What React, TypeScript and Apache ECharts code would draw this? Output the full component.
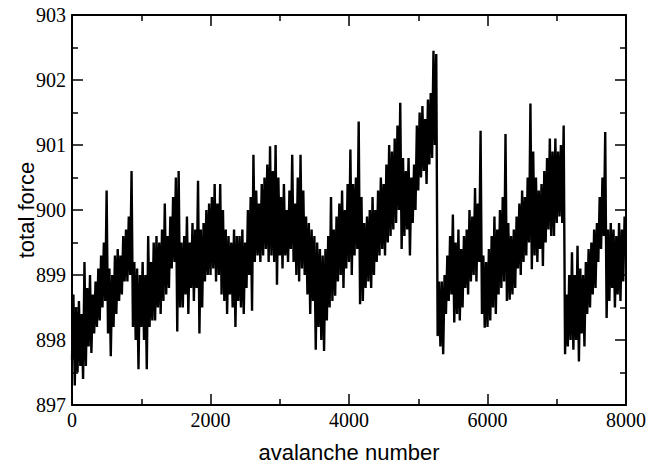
import React, { useEffect, useRef } from "react";
import * as echarts from "echarts";

// sample spacing along the x axis (avalanche number) for each bin
const binWidth = 40;
// x axis ticks
const xTicks = [0, 2000, 4000, 6000, 8000];
// y axis ticks
const yTicks = [897, 898, 899, 900, 901, 902, 903];

// upper excursion of total force in each bin of 40 avalanches
const highs = [
  898.7, 898.5, 898.6, 898.4, 899.2,
  898.8, 899.0, 898.7, 898.9, 899.1,
  899.3, 899.5, 900.3, 899.1, 899.0,
  899.3, 899.4, 899.3, 899.6, 899.7,
  899.9, 900.6, 899.2, 899.1, 899.0,
  899.2, 899.0, 899.6, 899.2, 899.5,
  899.6, 899.5, 899.7, 900.1, 899.6,
  899.9, 900.2, 900.5, 900.6, 899.5,
  899.6, 899.9, 899.5, 899.8, 899.7,
  900.45, 899.7, 899.8, 900.0, 900.1,
  900.2, 900.4, 900.1, 900.4, 900.0,
  899.7, 899.6, 899.5, 899.7, 899.6,
  899.6, 899.7, 899.5, 900.0, 900.2,
  900.85, 900.3, 900.1, 900.4, 900.5,
  900.7, 900.98, 900.6, 901.0, 900.5,
  900.2, 900.4, 900.0, 900.3, 900.85,
  900.1, 900.5, 900.85, 900.3, 899.9,
  899.8, 899.7, 899.6, 899.5, 899.4,
  899.3, 899.4, 899.6, 900.2, 899.7,
  899.9, 900.1, 900.3, 900.0, 900.4,
  900.93, 900.4, 900.5, 901.36, 900.2,
  899.8, 899.9, 900.0, 900.2, 900.0,
  900.3, 900.5, 900.4, 900.7, 901.0,
  900.9, 901.1, 901.3, 901.65, 900.8,
  900.6, 900.8, 900.5, 900.7, 901.3,
  901.5, 901.6, 901.4, 901.7, 901.8,
  902.45, 902.4, 898.9,
  898.9, 899.0,
  899.3, 899.6, 899.93, 899.5, 899.7,
  899.4, 899.6, 899.7, 900.0, 899.9,
  900.34, 900.1, 901.22, 899.3, 899.2,
  899.4, 899.6, 899.9, 899.7, 900.0,
  900.2, 901.17, 899.8, 899.6, 899.7,
  899.9, 900.1, 900.3, 900.2, 900.5,
  901.64, 900.9, 900.5, 900.3, 900.4,
  900.6, 900.8, 901.1, 900.9, 901.1,
  900.9, 901.0, 901.3,
  898.7, 899.0, 899.35, 899.0,
  899.45, 899.1, 899.0, 899.2,
  899.4, 899.5, 899.7, 899.8,
  900.2, 900.5, 901.2, 899.7,
  899.8, 899.7, 899.6, 899.8, 899.7, 899.9,
];

// lower excursion of total force in each bin of 40 avalanches
const lows = [
  897.7, 897.3, 897.5, 897.6, 897.4,
  897.6, 897.9, 897.8, 898.1, 898.2,
  898.3, 898.5, 898.6, 898.1, 897.75,
  898.2, 898.4, 898.6, 898.7, 898.9,
  898.9, 899.0, 898.2, 898.0, 897.55,
  898.2, 898.0, 897.55, 898.2, 898.3,
  898.3, 898.5, 898.4, 898.6, 898.7,
  898.8, 899.1, 899.2, 898.13, 898.5,
  898.5, 898.7, 898.4, 898.8, 898.6,
  898.8, 898.1, 898.5, 898.9, 899.0,
  899.0, 899.1, 898.9, 899.0, 898.7,
  898.6, 898.4, 898.7, 898.5, 898.2,
  898.6, 898.5, 898.4, 898.8, 899.0,
  898.45, 899.2, 899.3, 899.2, 899.3,
  899.4, 899.2, 899.3, 899.2, 898.85,
  899.3, 899.1, 899.3, 899.2, 899.4,
  899.2, 899.0, 898.9, 899.1, 899.0,
  898.7, 898.4, 898.6, 897.85, 898.2,
  898.0, 897.83, 898.3, 898.5, 898.6,
  898.68, 898.9, 899.0, 898.8, 899.1,
  899.2, 899.0, 899.3, 899.4, 898.55,
  898.6, 898.8, 898.9, 898.8, 899.0,
  899.2, 899.3, 899.4, 899.3, 899.5,
  899.6, 899.7, 899.8, 900.0, 899.4,
  899.6, 899.7, 899.3, 899.8, 900.0,
  900.3, 900.5, 900.6, 900.4, 900.7,
  900.8, 901.0, 898.06,
  897.9, 897.78,
  898.4, 898.6, 898.7, 898.27, 898.4,
  898.3, 898.5, 898.8, 898.7, 898.9,
  899.0, 898.9, 899.2, 898.4, 898.19,
  898.2, 898.3, 898.5, 898.4, 898.7,
  898.8, 898.9, 898.6, 898.62, 898.7,
  898.8, 899.1, 899.0, 899.2, 899.3,
  899.5, 899.09, 899.3, 899.2, 899.4,
  899.14, 899.5, 899.7, 899.6, 899.6,
  899.8, 899.9, 899.8,
  897.78, 897.9, 898.0, 897.85,
  898.0, 897.67, 898.1, 897.9,
  898.4, 898.5, 898.7, 898.8,
  899.2, 899.4, 899.6, 898.34,
  898.6, 898.8, 898.5, 898.7, 898.6, 898.9,
];

const xTitle = "avalanche number";
const yTitle = "total force";

export default function App() {
  const ref = useRef<HTMLDivElement>(null);

  useEffect(() => {
    if (!ref.current) return;
    const chart = echarts.init(ref.current, null, { renderer: "svg" });

    const data: [number, number][] = [];
    for (let i = 0; i < highs.length; i++) {
      data.push([i * binWidth, lows[i]]);
      data.push([i * binWidth + binWidth / 2, highs[i]]);
    }

    const serif = "Liberation Serif";
    const labelStyle = {
      fontFamily: serif,
      fontSize: 20,
      color: "#000",
      formatter: (v: number) => String(v),
    };
    const lineStyle = { color: "#000", width: 2 };
    const tick = { show: true, inside: true, length: 11, lineStyle: { color: "#000", width: 1.5 } };
    const minor = { show: true, splitNumber: 2, length: 6, lineStyle: { color: "#000", width: 1.5 } };

    const xCommon = {
      type: "value" as const,
      min: xTicks[0],
      max: xTicks[xTicks.length - 1],
      interval: xTicks[1] - xTicks[0],
      splitLine: { show: false },
      axisLine: { show: true, onZero: false, lineStyle },
      axisTick: tick,
      minorTick: minor,
    };
    const yCommon = {
      type: "value" as const,
      min: yTicks[0],
      max: yTicks[yTicks.length - 1],
      interval: yTicks[1] - yTicks[0],
      splitLine: { show: false },
      axisLine: { show: true, onZero: false, lineStyle },
      axisTick: tick,
      minorTick: minor,
    };

    chart.setOption({
      animation: false,
      backgroundColor: "#fff",
      grid: { left: 72, right: 22, top: 15, bottom: 58, containLabel: false },
      xAxis: [
        { ...xCommon, position: "bottom", axisLabel: { ...labelStyle, margin: 5 } },
        { ...xCommon, position: "top", axisLabel: { show: false } },
      ],
      yAxis: [
        { ...yCommon, position: "left", axisLabel: { ...labelStyle, margin: 6 } },
        { ...yCommon, position: "right", axisLabel: { show: false } },
      ],
      graphic: [
        {
          type: "text",
          x: 349,
          y: 452,
          style: {
            text: xTitle,
            fontFamily: "Liberation Sans",
            fontSize: 22,
            fill: "#000",
            textAlign: "center",
            textVerticalAlign: "middle",
          },
        },
        {
          type: "text",
          x: 26,
          y: 210,
          rotation: Math.PI / 2,
          style: {
            text: yTitle,
            fontFamily: "Liberation Sans",
            fontSize: 22,
            fill: "#000",
            textAlign: "center",
            textVerticalAlign: "middle",
          },
        },
      ],
      series: [
        {
          type: "line",
          data,
          showSymbol: false,
          symbol: "none",
          lineStyle: { color: "#000", width: 2.4, join: "miter", miterLimit: 2 },
          xAxisIndex: 0,
          yAxisIndex: 0,
        },
      ],
    });

    return () => chart.dispose();
  }, []);

  return <div ref={ref} style={{ width: 649, height: 463, position: "absolute", left: 0, top: 0 }} />;
}
